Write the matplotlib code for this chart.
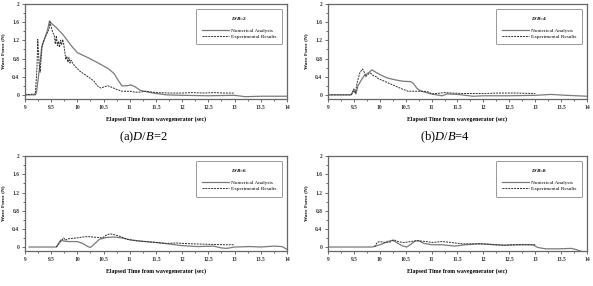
import numpy as np
import matplotlib
matplotlib.use("Agg")
import matplotlib.pyplot as plt
from matplotlib.ticker import MultipleLocator, FuncFormatter

plt.rcParams['font.family'] = ['Liberation Serif', 'DejaVu Serif']
plt.rcParams['mathtext.fontset'] = 'custom'
plt.rcParams['mathtext.rm'] = 'Liberation Serif'
plt.rcParams['mathtext.it'] = 'Liberation Serif:italic'
plt.rcParams['mathtext.bf'] = 'Liberation Serif:bold:italic'

# ---- data (time in sec, force in N) ----
# (a) D/B = 2
t_num_a = [9.0, 9.2, 9.22, 9.28, 9.32, 9.38, 9.43, 9.47, 9.5, 9.6, 9.73, 9.9, 10.0,
           10.2, 10.4, 10.6, 10.7, 10.78, 10.85, 10.95, 11.02, 11.1, 11.2, 11.35,
           11.5, 11.7, 12.0, 12.5, 13.0, 13.2, 13.5, 14.0]
f_num_a = [0, 0, 0.05, 0.6, 1.05, 1.25, 1.42, 1.63, 1.58, 1.48, 1.32, 1.06, 0.93,
           0.82, 0.70, 0.57, 0.47, 0.32, 0.2, 0.2, 0.22, 0.18, 0.1, 0.06,
           0.03, 0.0, -0.01, -0.02, -0.01, -0.04, -0.03, -0.03]
t_exp_a = [9.0, 9.2, 9.23, 9.245, 9.27, 9.29, 9.33, 9.38, 9.42, 9.46, 9.48, 9.5, 9.53,
           9.56, 9.58, 9.6, 9.62, 9.64, 9.66, 9.68, 9.7, 9.72, 9.74, 9.76, 9.78, 9.8,
           9.82, 9.84, 9.86, 9.88, 9.92, 9.98, 10.05, 10.15, 10.25, 10.32, 10.38,
           10.45, 10.52, 10.58, 10.65, 10.75, 10.85, 11.0, 11.1, 11.2, 11.3, 11.5,
           11.8, 12.0, 12.2, 12.4, 12.6, 12.8, 13.0]
f_exp_a = [0, 0.02, 0.6, 1.22, 0.7, 0.5, 1.1, 1.25, 1.35, 1.45, 1.6, 1.5, 1.38,
           1.3, 1.12, 1.3, 1.08, 1.18, 1.05, 1.2, 1.1, 1.22, 1.12, 0.95, 0.78, 0.85,
           0.72, 0.82, 0.7, 0.76, 0.68, 0.6, 0.52, 0.44, 0.36, 0.3, 0.2,
           0.15, 0.18, 0.2, 0.17, 0.12, 0.08, 0.08, 0.06, 0.06, 0.08, 0.05,
           0.04, 0.04, 0.05, 0.04, 0.05, 0.04, 0.04]

# (b) D/B = 4
t_num_b = [9.0, 9.45, 9.5, 9.54, 9.58, 9.64, 9.7, 9.76, 9.8, 9.85, 9.95, 10.05, 10.15,
           10.3, 10.45, 10.6, 10.65, 10.72, 10.8, 10.9, 11.0, 11.1, 11.2, 11.3, 11.5,
           11.8, 12.0, 12.5, 13.0, 13.3, 13.6, 14.0]
f_num_b = [0, 0, 0.1, 0.02, 0.2, 0.32, 0.42, 0.47, 0.5, 0.55, 0.48, 0.42, 0.37,
           0.33, 0.3, 0.29, 0.25, 0.14, 0.08, 0.05, 0.02, 0.0, -0.02, 0.02, 0.01,
           -0.03, -0.02, -0.02, -0.01, 0.01, -0.01, -0.03]
t_exp_b = [9.0, 9.45, 9.5, 9.53, 9.57, 9.62, 9.67, 9.7, 9.73, 9.78, 9.82, 9.88, 9.93,
           9.98, 10.05, 10.15, 10.25, 10.35, 10.45, 10.55, 10.7, 10.85, 10.95, 11.0,
           11.1, 11.25, 11.4, 11.6, 11.8, 12.0, 12.3, 12.6, 13.0]
f_exp_b = [0, 0, 0.13, 0.05, 0.3, 0.5, 0.57, 0.5, 0.4, 0.46, 0.48, 0.42, 0.4,
           0.35, 0.32, 0.27, 0.22, 0.17, 0.12, 0.08, 0.08, 0.08, 0.06, 0.02,
           0.03, 0.05, 0.04, 0.03, 0.03, 0.03, 0.04, 0.04, 0.03]

# (c) D/B = 6
t_num_c = [9.08, 9.6, 9.68, 9.75, 9.85, 10.0, 10.1, 10.2, 10.25, 10.32, 10.42, 10.55,
           10.7, 10.85, 11.0, 11.2, 11.5, 11.8, 12.0, 12.3, 12.6, 12.75, 12.85, 13.0,
           13.3, 13.5, 13.75, 13.9, 14.0]
f_num_c = [0, 0, 0.15, 0.13, 0.12, 0.12, 0.08, 0.01, -0.01, 0.06, 0.17, 0.21,
           0.22, 0.2, 0.16, 0.13, 0.1, 0.06, 0.03, 0.01, 0.02, -0.02, -0.03, 0.0,
           0.01, 0.0, 0.02, 0.01, -0.05]
t_exp_c = [9.6, 9.68, 9.74, 9.77, 9.82, 9.9, 10.0, 10.1, 10.2, 10.3, 10.4, 10.48,
           10.55, 10.62, 10.68, 10.8, 10.95, 11.1, 11.3, 11.5, 11.7, 11.9, 12.0,
           12.2, 12.5, 12.8, 13.0]
f_exp_c = [0, 0.12, 0.2, 0.15, 0.18, 0.19, 0.2, 0.22, 0.23, 0.22, 0.21, 0.2,
           0.26, 0.29, 0.28, 0.24, 0.17, 0.14, 0.12, 0.1, 0.08, 0.09, 0.08,
           0.07, 0.06, 0.05, 0.05]

# (d) D/B = 8
t_num_d = [9.0, 9.85, 9.95, 10.05, 10.15, 10.25, 10.35, 10.45, 10.52, 10.6, 10.68,
           10.75, 10.85, 11.0, 11.2, 11.45, 11.65, 11.9, 12.1, 12.4, 12.7, 12.95,
           13.05, 13.2, 13.45, 13.7, 13.8, 13.9]
f_num_d = [0, 0, 0.03, 0.07, 0.12, 0.15, 0.08, 0.02, 0.0, 0.06, 0.13,
           0.14, 0.08, 0.05, 0.05, 0.02, 0.05, 0.07, 0.06, 0.04, 0.05, 0.05,
           -0.01, -0.04, -0.04, -0.03, -0.06, -0.1]
t_exp_d = [9.9, 9.95, 10.0, 10.1, 10.2, 10.27, 10.35, 10.45, 10.55, 10.65, 10.72,
           10.8, 10.9, 11.0, 11.1, 11.2, 11.3, 11.45, 11.6, 11.8, 12.0, 12.2, 12.4,
           12.6, 12.8, 13.0]
f_exp_d = [0, 0.1, 0.12, 0.1, 0.11, 0.16, 0.12, 0.1, 0.11, 0.13, 0.14,
           0.13, 0.12, 0.1, 0.11, 0.12, 0.11, 0.09, 0.07, 0.07, 0.07, 0.05, 0.04,
           0.05, 0.05, 0.05]

ratios = ['2', '4', '6', '8']
captions = ['(a)', '(b)', None, None]

# ---- layout ----
fig = plt.figure(figsize=(5.93, 2.86), dpi=100)
positions = [
    [0.042, 0.654, 0.442, 0.332],
    [0.553, 0.654, 0.437, 0.332],
    [0.042, 0.122, 0.442, 0.332],
    [0.553, 0.122, 0.437, 0.332],
]
series = [
    (t_num_a, f_num_a, t_exp_a, f_exp_a),
    (t_num_b, f_num_b, t_exp_b, f_exp_b),
    (t_num_c, f_num_c, t_exp_c, f_exp_c),
    (t_num_d, f_num_d, t_exp_d, f_exp_d),
]

fmt = FuncFormatter(lambda v, p: '%g' % round(v, 2))

for i, pos in enumerate(positions):
    ax = fig.add_axes(pos)
    tn, fn, te, fe = series[i]
    ax.plot(tn, fn, color='#7a7a7a', lw=0.9, label='Numerical Analysis')
    ax.plot(te, fe, color='#2e2e2e', lw=0.7, ls=(0, (2.0, 1.0)),
            label='Experimental Results')

    ax.set_xlim(9, 14)
    ax.set_ylim(-0.09, 2)
    ax.xaxis.set_major_locator(MultipleLocator(0.5))
    ax.xaxis.set_minor_locator(MultipleLocator(0.25))
    ax.yaxis.set_major_locator(MultipleLocator(0.4))
    ax.yaxis.set_minor_locator(MultipleLocator(0.2))
    ax.xaxis.set_major_formatter(fmt)
    ax.yaxis.set_major_formatter(fmt)
    ax.tick_params(which='both', direction='out', width=0.5, colors='#333333',
                   labelsize=4, pad=2)
    ax.tick_params(which='major', length=2)
    ax.tick_params(which='minor', length=1.2)
    for lab in ax.get_xticklabels() + ax.get_yticklabels():
        lab.set_fontweight('bold')
    for s in ax.spines.values():
        s.set_color('#666666')
        s.set_linewidth(0.9)

    ax.set_xlabel('Elapsed Time from wavegenerator (sec)', fontsize=4.2,
                  fontweight='bold', labelpad=5)
    ax.set_ylabel('Wave Force (N)', fontsize=3.8, fontweight='bold', labelpad=5)

    leg = ax.legend(loc='upper right', bbox_to_anchor=(0.98, 0.945),
                    title=r'$\mathbf{D/B}$=' + ratios[i] + '\n',
                    fontsize=3.8, title_fontsize=3.8, handlelength=5.2,
                    handletextpad=0.4, labelspacing=0.35, borderpad=1.0,
                    borderaxespad=0, fancybox=True, framealpha=1)
    leg.get_title().set_fontweight('bold')
    leg.get_frame().set_edgecolor('#888888')
    leg.get_frame().set_linewidth(0.6)

    if captions[i]:
        ax.text(0.45, -0.4, captions[i] + r'$\it{D/B}$=' + ratios[i],
                transform=ax.transAxes, ha='center', va='center', fontsize=9)

fig.savefig('out.png', dpi=100)
